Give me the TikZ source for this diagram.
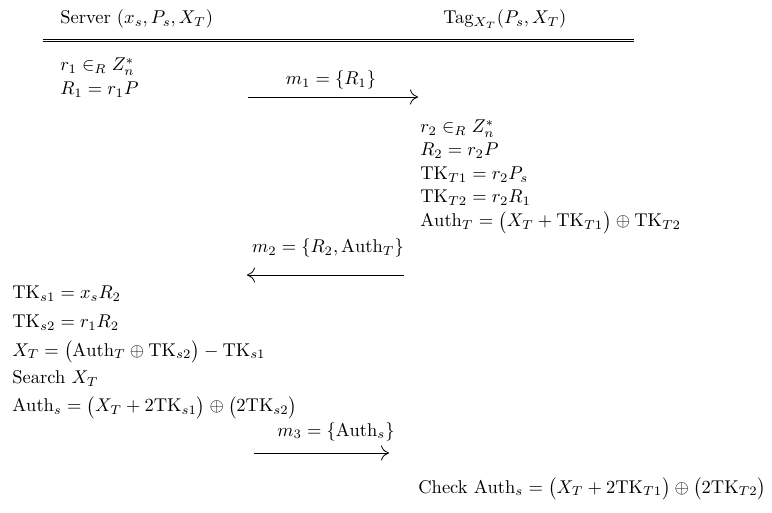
\documentclass[tikz,border=0pt]{standalone}
\usetikzlibrary{arrows.meta}
\begin{document}
\begin{tikzpicture}[x=1pt,y=-1pt,
  txt/.style={anchor=base west,inner sep=0pt,scale=1.85},
  lbl/.style={anchor=base,inner sep=0pt,scale=1.85},
  msg/.style={line width=0.8pt,-{Computer Modern Rightarrow[length=8pt,width=15pt]}},
  rule/.style={line width=0.9pt}]
\useasboundingbox (0,0) rectangle (772,513);
% headers
\node[txt] (srv) at (60,24) {Server $(x_s, P_s, X_T)$};
\node[txt] (tag) at (443,24) {Tag$_{X_T}(P_s, X_T)$};
\coordinate (dl1) at (43,39);
\coordinate (dr1) at (634,39);
\coordinate (dl2) at (43,41.6);
\coordinate (dr2) at (634,41.6);
\draw[rule] (dl1) -- (dr1);
\draw[rule] (dl2) -- (dr2);
% server step 1
\node[txt] (s1) at (60,71) {$r_1 \in_R Z_n^*$};
\node[txt] (s2) at (60,95) {$R_1 = r_1P$};
% message 1
\node[lbl] (m1) at (331,85) {$m_1 = \{R_1\}$};
\coordinate (a1s) at (248,97);
\coordinate (a1e) at (418,97);
\draw[msg] (a1s) -- (a1e);
% tag computations
\node[txt] (t1) at (420,133) {$r_2 \in_R Z_n^*$};
\node[txt] (t2) at (420,156) {$R_2 = r_2P$};
\node[txt] (t3) at (420,180) {$\mathrm{TK}_{T1} = r_2P_s$};
\node[txt] (t4) at (420,203) {$\mathrm{TK}_{T2} = r_2R_1$};
\node[txt] (t5) at (420,227) {$\mathrm{Auth}_T = \bigl(X_T + \mathrm{TK}_{T1}\bigr) \oplus \mathrm{TK}_{T2}$};
% message 2
\node[lbl] (m2) at (328,253) {$m_2 = \{R_2, \mathrm{Auth}_T\}$};
\coordinate (a2s) at (404,275);
\coordinate (a2e) at (247,275);
\draw[msg] (a2s) -- (a2e);
% server computations
\node[txt] (u1) at (12,299) {$\mathrm{TK}_{s1} = x_sR_2$};
\node[txt] (u2) at (12,328) {$\mathrm{TK}_{s2} = r_1R_2$};
\node[txt] (u3) at (12,356) {$X_T = \bigl(\mathrm{Auth}_T \oplus \mathrm{TK}_{s2}\bigr) - \mathrm{TK}_{s1}$};
\node[txt] (u4) at (12,384) {Search $X_T$};
\node[txt] (u5) at (12,412) {$\mathrm{Auth}_s = \bigl(X_T + 2\mathrm{TK}_{s1}\bigr) \oplus \bigl(2\mathrm{TK}_{s2}\bigr)$};
% message 3
\node[lbl] (m3) at (336,436) {$m_3 = \{\mathrm{Auth}_s\}$};
\coordinate (a3s) at (254,453);
\coordinate (a3e) at (389,453);
\draw[msg] (a3s) -- (a3e);
% tag check
\node[txt] (c1) at (418,493) {Check $\mathrm{Auth}_s = \bigl(X_T + 2\mathrm{TK}_{T1}\bigr) \oplus \bigl(2\mathrm{TK}_{T2}\bigr)$};
\end{tikzpicture}
\end{document}
